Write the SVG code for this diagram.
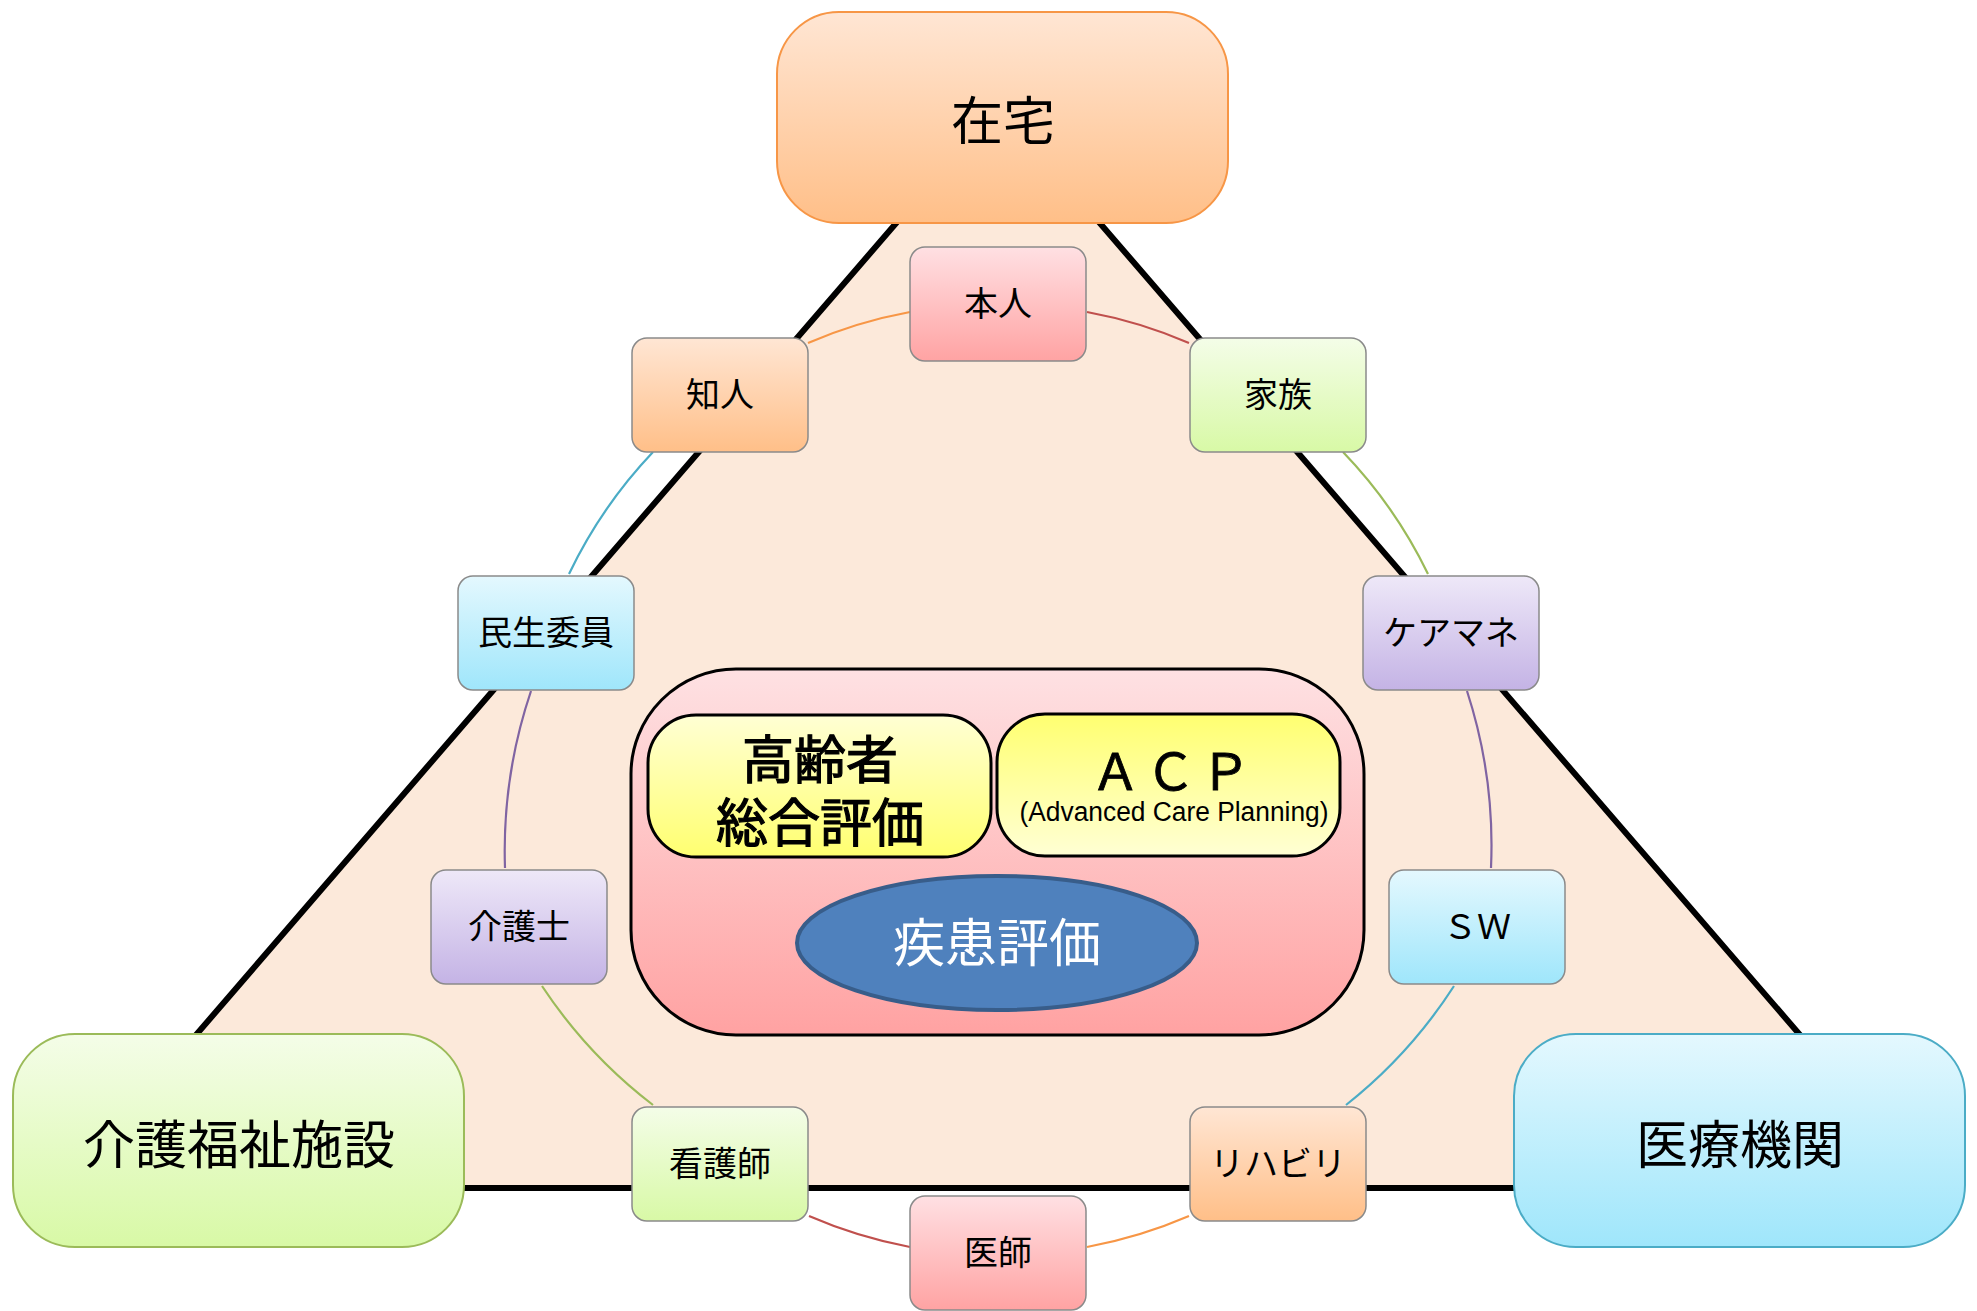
<svg xmlns="http://www.w3.org/2000/svg" width="1977" height="1311" viewBox="0 0 1977 1311">
<defs>
<linearGradient id="gOrange" x1="0" y1="0" x2="0" y2="1"><stop offset="0" stop-color="#FFE6D4"/><stop offset="1" stop-color="#FFBF88"/></linearGradient>
<linearGradient id="gGreen" x1="0" y1="0" x2="0" y2="1"><stop offset="0" stop-color="#F4FDE8"/><stop offset="1" stop-color="#D8F9A6"/></linearGradient>
<linearGradient id="gBlue" x1="0" y1="0" x2="0" y2="1"><stop offset="0" stop-color="#E4F8FE"/><stop offset="1" stop-color="#9FE6FB"/></linearGradient>
<linearGradient id="gPink" x1="0" y1="0" x2="0" y2="1"><stop offset="0" stop-color="#FFE0E3"/><stop offset="1" stop-color="#FFA3A3"/></linearGradient>
<linearGradient id="gPurple" x1="0" y1="0" x2="0" y2="1"><stop offset="0" stop-color="#EEE8F8"/><stop offset="1" stop-color="#C4B3E5"/></linearGradient>
<linearGradient id="gCont" x1="0" y1="0" x2="0" y2="1"><stop offset="0" stop-color="#FEE1E3"/><stop offset="1" stop-color="#FFA2A2"/></linearGradient>
<linearGradient id="gYelDown" x1="0" y1="0" x2="0" y2="1"><stop offset="0" stop-color="#FFFFD4"/><stop offset="1" stop-color="#FFFF70"/></linearGradient>
<linearGradient id="gYelUp" x1="0" y1="0" x2="0" y2="1"><stop offset="0" stop-color="#FFFF70"/><stop offset="1" stop-color="#FFFFD4"/></linearGradient>
</defs>
<style>
.jp{font-family:"Noto Sans CJK JP","Noto Sans CJK SC",sans-serif;fill:#000;text-anchor:middle}
.big{font-size:52px}
.small{font-size:34px}
.sn{stroke:#8A8A8A;stroke-width:1.5}
.arc{fill:none;stroke-width:2.2}
.inner{stroke:#000;stroke-width:3}
.med{stroke:#000;stroke-width:1.2}
</style>
<rect width="1977" height="1311" fill="#FFFFFF"/>
<g id="triangle">
<polygon points="998,105 64,1188 1932,1188" fill="#FCE9DA" stroke="#000" stroke-width="6" stroke-linejoin="miter"/>
</g>
<g id="connectors">
<path class="arc" stroke="#F79646" d="M808,343 A475,475 0 0 1 910,312"/>
<path class="arc" stroke="#C0504D" d="M1087,312 A475,475 0 0 1 1189,343"/>
<path class="arc" stroke="#9BBB59" d="M1343,452 A475,475 0 0 1 1428,574"/>
<path class="arc" stroke="#8064A2" d="M1467,691 A500,500 0 0 1 1491,868"/>
<path class="arc" stroke="#4BACC6" d="M1454,986 A490,490 0 0 1 1346,1105"/>
<path class="arc" stroke="#F79646" d="M1189,1216 A475,475 0 0 1 1087,1247"/>
<path class="arc" stroke="#C0504D" d="M910,1247 A475,475 0 0 1 809,1216"/>
<path class="arc" stroke="#9BBB59" d="M653,1105 A490,490 0 0 1 542,986"/>
<path class="arc" stroke="#8064A2" d="M505,868 A500,500 0 0 1 531,691"/>
<path class="arc" stroke="#4BACC6" d="M569,574 A475,475 0 0 1 653,452"/>
</g>
<g id="center">
<rect x="631" y="669" width="733" height="366" rx="105" fill="url(#gCont)" stroke="#000" stroke-width="3"/>
</g>
<g id="koureisha">
<rect class="inner" x="648" y="715" width="343" height="142" rx="48" fill="url(#gYelDown)"/>
<text class="jp med" x="820" y="779" font-size="52">高齢者</text>
<text class="jp med" x="820" y="842" font-size="52">総合評価</text>
</g>
<g id="acp">
<rect class="inner" x="997" y="714" width="343" height="142" rx="48" fill="url(#gYelUp)"/>
<text class="jp" x="1173" y="790" font-size="50" letter-spacing="5" stroke="#000" stroke-width="0.8">ＡＣＰ</text>
<text x="1174" y="821" font-family="Liberation Sans, Arial, sans-serif" font-size="27" text-anchor="middle" textLength="309" lengthAdjust="spacingAndGlyphs">(Advanced Care Planning)</text>
</g>
<g id="shikkan">
<ellipse cx="997" cy="943" rx="200" ry="67" fill="#4F81BD" stroke="#385D8A" stroke-width="4"/>
<text class="jp big" x="997" y="962" style="fill:#FFFFFF">疾患評価</text>
</g>
<g id="n-honnin"><rect class="sn" x="910" y="247" width="176" height="114" rx="15" fill="url(#gPink)"/><text class="jp small" x="998" y="316">本人</text></g>
<g id="n-chijin"><rect class="sn" x="632" y="338" width="176" height="114" rx="15" fill="url(#gOrange)"/><text class="jp small" x="720" y="407">知人</text></g>
<g id="n-kazoku"><rect class="sn" x="1190" y="338" width="176" height="114" rx="15" fill="url(#gGreen)"/><text class="jp small" x="1278" y="407">家族</text></g>
<g id="n-minsei"><rect class="sn" x="458" y="576" width="176" height="114" rx="15" fill="url(#gBlue)"/><text class="jp small" x="546" y="645">民生委員</text></g>
<g id="n-caremane"><rect class="sn" x="1363" y="576" width="176" height="114" rx="15" fill="url(#gPurple)"/><text class="jp small" x="1451" y="645">ケアマネ</text></g>
<g id="n-kaigoshi"><rect class="sn" x="431" y="870" width="176" height="114" rx="15" fill="url(#gPurple)"/><text class="jp small" x="519" y="939">介護士</text></g>
<g id="n-sw"><rect class="sn" x="1389" y="870" width="176" height="114" rx="15" fill="url(#gBlue)"/><text class="jp small" x="1477" y="939">ＳＷ</text></g>
<g id="n-kangoshi"><rect class="sn" x="632" y="1107" width="176" height="114" rx="15" fill="url(#gGreen)"/><text class="jp small" x="720" y="1176">看護師</text></g>
<g id="n-rihabiri"><rect class="sn" x="1190" y="1107" width="176" height="114" rx="15" fill="url(#gOrange)"/><text class="jp small" x="1278" y="1176">リハビリ</text></g>
<g id="n-ishi"><rect class="sn" x="910" y="1196" width="176" height="114" rx="15" fill="url(#gPink)"/><text class="jp small" x="998" y="1265">医師</text></g>
<g id="zaitaku"><rect x="777" y="12" width="451" height="211" rx="62" fill="url(#gOrange)" stroke="#F79646" stroke-width="2"/><text class="jp big" x="1003" y="140">在宅</text></g>
<g id="kaigofukushi"><rect x="13" y="1034" width="451" height="213" rx="62" fill="url(#gGreen)" stroke="#9BBB59" stroke-width="2"/><text class="jp big" x="239" y="1164">介護福祉施設</text></g>
<g id="iryokikan"><rect x="1514" y="1034" width="451" height="213" rx="62" fill="url(#gBlue)" stroke="#4BACC6" stroke-width="2"/><text class="jp big" x="1740" y="1164">医療機関</text></g>
</svg>
